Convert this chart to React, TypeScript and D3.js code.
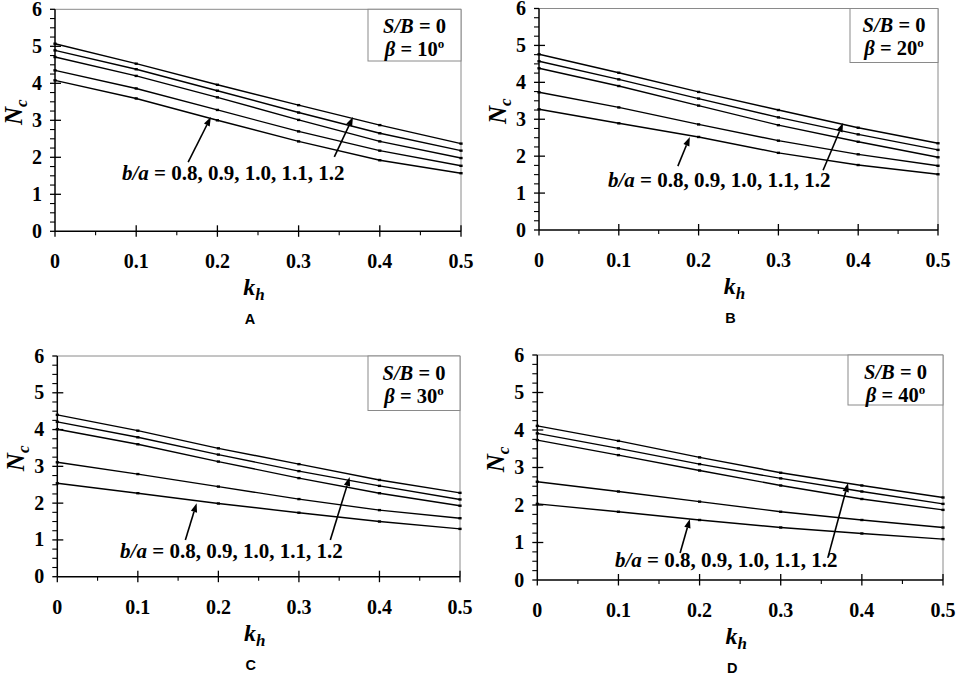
import React from "react";
import * as d3 from "d3";

const kh = [0, 0.1, 0.2, 0.3, 0.4, 0.5];
const ratios = ["0.8", "0.9", "1.0", "1.1", "1.2"];
const betas = ["10", "20", "30", "40"];
const panelLetters = ["A", "B", "C", "D"];
const yTicks = [0, 1, 2, 3, 4, 5, 6];
const xTicks = [0, 0.1, 0.2, 0.3, 0.4, 0.5];
const xTickLabels = ["0", "0.1", "0.2", "0.3", "0.4", "0.5"];

// Nc values per panel, series from top curve to bottom curve
const ncA = [
  [5.07, 4.53, 3.96, 3.41, 2.87, 2.37],
  [4.89, 4.38, 3.8, 3.21, 2.65, 2.18],
  [4.71, 4.2, 3.62, 3.01, 2.43, 1.98],
  [4.35, 3.86, 3.28, 2.7, 2.18, 1.77],
  [4.08, 3.59, 3.0, 2.43, 1.92, 1.57],
];
const ncB = [
  [4.76, 4.26, 3.74, 3.25, 2.77, 2.35],
  [4.57, 4.08, 3.56, 3.05, 2.59, 2.17],
  [4.38, 3.9, 3.37, 2.84, 2.39, 1.97],
  [3.73, 3.32, 2.86, 2.42, 2.05, 1.74],
  [3.27, 2.89, 2.52, 2.09, 1.76, 1.51],
];
const ncC = [
  [4.4, 3.97, 3.49, 3.06, 2.63, 2.28],
  [4.21, 3.79, 3.32, 2.87, 2.47, 2.1],
  [4.01, 3.6, 3.13, 2.68, 2.27, 1.93],
  [3.11, 2.79, 2.45, 2.11, 1.81, 1.59],
  [2.54, 2.27, 1.99, 1.74, 1.5, 1.3],
];
const ncD = [
  [4.11, 3.71, 3.27, 2.86, 2.52, 2.2],
  [3.91, 3.51, 3.09, 2.71, 2.36, 2.03],
  [3.73, 3.33, 2.92, 2.52, 2.16, 1.87],
  [2.62, 2.36, 2.09, 1.82, 1.6, 1.4],
  [2.03, 1.82, 1.6, 1.4, 1.24, 1.09],
];
const allData = [ncA, ncB, ncC, ncD];

// annotation anchors in data units [kh, Nc]
const textAnchors = [
  [0.0825, 1.38],
  [0.0865, 1.16],
  [0.078, 0.51],
  [0.0957, 0.35],
];
const leftArrows = [
  [[0.164, 1.87], [0.192, 3.09]],
  [[0.174, 1.73], [0.189, 2.52]],
  [[0.159, 1.0], [0.173, 2.0]],
  [[0.176, 0.72], [0.188, 1.63]],
];
const rightArrows = [
  [[0.344, 2.01], [0.367, 3.09]],
  [[0.356, 1.62], [0.381, 2.9]],
  [[0.339, 1.0], [0.363, 2.71]],
  [[0.358, 0.59], [0.383, 2.59]],
];

// layout (pixels)
const layouts = [
  { x0: 55, x1: 461, yb: 231.3, yt: 9.3, boxL: 368, boxB: 61 },
  { x0: 539, x1: 938, yb: 230, yt: 8.5, boxL: 850, boxB: 62.5 },
  { x0: 57.3, x1: 460, yb: 576.7, yt: 356, boxL: 368, boxB: 410.5 },
  { x0: 537.3, x1: 943, yb: 580, yt: 355, boxL: 848, boxB: 405 },
];

const SERIF = "Liberation Serif";
const SANS = "Liberation Sans";

function Arrow({ from, to }: { from: [number, number]; to: [number, number] }) {
  const [x1, y1] = from;
  const [x2, y2] = to;
  const ang = Math.atan2(y2 - y1, x2 - x1);
  const L = 9;
  const W = 3.2;
  const bx = x2 - L * Math.cos(ang);
  const by = y2 - L * Math.sin(ang);
  const px = -Math.sin(ang) * W;
  const py = Math.cos(ang) * W;
  return (
    <g>
      <line x1={x1} y1={y1} x2={bx} y2={by} stroke="#000" strokeWidth={1.6} />
      <path
        d={`M${x2},${y2}L${bx + px},${by + py}L${bx - px},${by - py}Z`}
        fill="#000"
      />
    </g>
  );
}

function Panel({ idx }: { idx: number }) {
  const lay = layouts[idx];
  const data = allData[idx];
  const x = d3.scaleLinear().domain([0, 0.5]).range([lay.x0, lay.x1]);
  const y = d3.scaleLinear().domain([0, 6]).range([lay.yb, lay.yt]);
  const line = d3
    .line<number>()
    .x((_, i) => x(kh[i]))
    .y((d) => y(d));
  const yMinor = d3.range(0, 6.001, 0.25).filter((v) => Math.abs(v - Math.round(v)) > 0.01);
  const xMinor = d3.range(0.05, 0.5, 0.1);
  const midX = (lay.x0 + lay.x1) / 2;
  const midY = (lay.yt + lay.yb) / 2;
  const ta = textAnchors[idx];
  const la = leftArrows[idx];
  const ra = rightArrows[idx];
  const boxCx = (lay.boxL + lay.x1) / 2;
  return (
    <g>
      {/* frame top and right */}
      <line x1={lay.x0} y1={lay.yt} x2={lay.x1} y2={lay.yt} stroke="#8a8a8a" strokeWidth={1} />
      <line x1={lay.x1} y1={lay.yt} x2={lay.x1} y2={lay.yb} stroke="#8a8a8a" strokeWidth={1} />
      {/* legend box */}
      <rect
        x={lay.boxL}
        y={lay.yt}
        width={lay.x1 - lay.boxL}
        height={lay.boxB - lay.yt}
        fill="#fff"
        stroke="#8a8a8a"
        strokeWidth={1}
      />
      <text
        x={boxCx}
        y={lay.yt + 23.5}
        textAnchor="middle"
        fontFamily={SERIF}
        fontWeight="bold"
        fontSize={20.5}
      >
        <tspan fontStyle="italic">S/B</tspan>
        <tspan> = 0</tspan>
      </text>
      <text
        x={boxCx}
        y={lay.yt + 46.5}
        textAnchor="middle"
        fontFamily={SERIF}
        fontWeight="bold"
        fontSize={20.5}
      >
        <tspan fontStyle="italic">β</tspan>
        <tspan>{` = ${betas[idx]}`}</tspan>
        <tspan fontSize={13} dy={-8}>o</tspan>
      </text>
      {/* data lines */}
      {data.map((s, si) => (
        <g key={si}>
          <path d={line(s) || ""} fill="none" stroke="#000" strokeWidth={1.4} />
          {s.map((v, i) => (
            <rect key={i} x={x(kh[i]) - 1.6} y={y(v) - 1.2} width={3.2} height={2.4} fill="#000" />
          ))}
        </g>
      ))}
      {/* axes */}
      <line x1={lay.x0} y1={lay.yb} x2={lay.x1} y2={lay.yb} stroke="#000" strokeWidth={1.5} />
      <line x1={lay.x0} y1={lay.yb} x2={lay.x0} y2={lay.yt} stroke="#000" strokeWidth={1.5} />
      {yTicks.map((t) => (
        <g key={"y" + t}>
          <line x1={lay.x0 - 5} x2={lay.x0 + (t === 0 || t === 6 ? 0 : 6)} y1={y(t)} y2={y(t)} stroke="#000" strokeWidth={1.3} />
          <text
            x={lay.x0 - 13}
            y={y(t) + 6.5}
            textAnchor="end"
            fontFamily={SERIF}
            fontWeight="bold"
            fontSize={20}
          >
            {t}
          </text>
        </g>
      ))}
      {yMinor.map((t, i) => (
        <line key={"ym" + i} x1={lay.x0 - 5} x2={lay.x0} y1={y(t)} y2={y(t)} stroke="#000" strokeWidth={1.1} />
      ))}
      {xTicks.map((t, i) => (
        <g key={"x" + i}>
          <line x1={x(t)} x2={x(t)} y1={lay.yb - (i === 0 ? 0 : 6)} y2={lay.yb + 5.5} stroke="#000" strokeWidth={1.3} />
          <text
            x={x(t)}
            y={lay.yb + 37}
            textAnchor="middle"
            fontFamily={SERIF}
            fontWeight="bold"
            fontSize={20}
          >
            {xTickLabels[i]}
          </text>
        </g>
      ))}
      {xMinor.map((t, i) => (
        <line key={"xm" + i} x1={x(t)} x2={x(t)} y1={lay.yb} y2={lay.yb + 4} stroke="#000" strokeWidth={1.1} />
      ))}
      {/* axis titles */}
      <text
        transform={`translate(${lay.x0 - 33},${midY - 8}) rotate(-90)`}
        textAnchor="middle"
        fontFamily={SERIF}
        fontWeight="bold"
        fontStyle="italic"
        fontSize={25}
      >
        N<tspan fontSize={17} dy={5}>c</tspan>
      </text>
      <text
        x={midX - 4}
        y={lay.yb + 64}
        textAnchor="middle"
        fontFamily={SERIF}
        fontWeight="bold"
        fontStyle="italic"
        fontSize={24}
      >
        k<tspan fontSize={17} dy={5}>h</tspan>
      </text>
      <text
        x={midX - 8}
        y={lay.yb + 93}
        textAnchor="middle"
        fontFamily={SANS}
        fontWeight="bold"
        fontSize={14.5}
      >
        {panelLetters[idx]}
      </text>
      {/* annotation */}
      <text
        x={x(ta[0])}
        y={y(ta[1])}
        fontFamily={SERIF}
        fontWeight="bold"
        fontSize={21}
      >
        <tspan fontStyle="italic">b/a</tspan>
        <tspan>{" = " + ratios.join(", ")}</tspan>
      </text>
      <Arrow from={[x(la[0][0]), y(la[0][1])]} to={[x(la[1][0]), y(la[1][1])]} />
      <Arrow from={[x(ra[0][0]), y(ra[0][1])]} to={[x(ra[1][0]), y(ra[1][1])]} />
    </g>
  );
}

export default function App() {
  return (
    <svg
      width={957}
      height={690}
      viewBox="0 0 957 690"
      style={{ position: "absolute", left: 0, top: 0, background: "#fff" }}
    >
      <rect width={957} height={690} fill="#fff" />
      {[0, 1, 2, 3].map((i) => (
        <Panel key={i} idx={i} />
      ))}
    </svg>
  );
}
